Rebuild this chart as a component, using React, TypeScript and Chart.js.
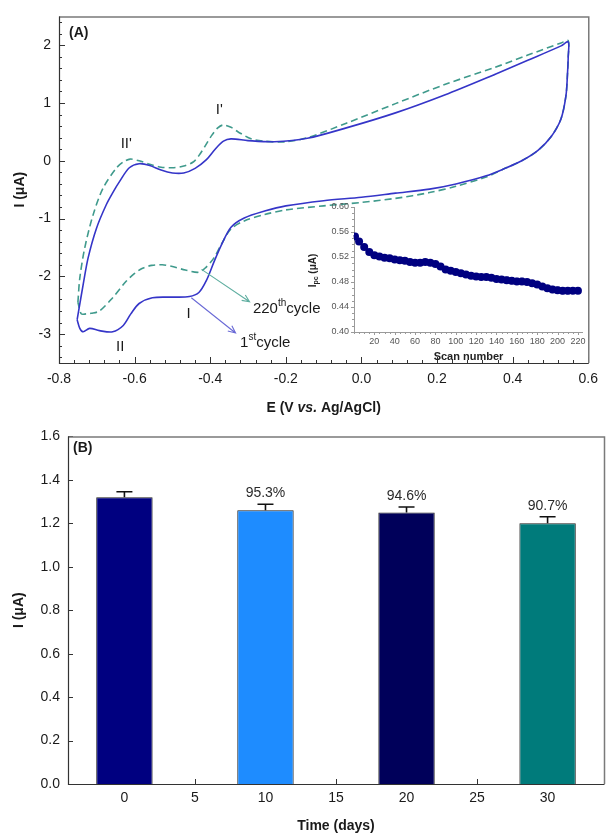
import React, { useEffect, useRef } from 'react';
import { Chart, registerables } from 'chart.js';

Chart.register(...registerables);

const FONT = 'Arial, "Liberation Sans", Helvetica, sans-serif';

// ---------------- Panel A: cyclic voltammograms (E in V, I in µA) ----------------
const cycle1Points: [number, number][] = [
  [-0.752, -2.75], [-0.745, -2.48], [-0.736, -2.14], [-0.723, -1.68], [-0.701, -1.17],
  [-0.675, -0.76], [-0.655, -0.52], [-0.640, -0.36], [-0.614, -0.12], [-0.588, -0.05],
  [-0.560, -0.08], [-0.530, -0.16], [-0.500, -0.21], [-0.470, -0.21], [-0.440, -0.13],
  [-0.410, 0.02], [-0.387, 0.20], [-0.365, 0.34], [-0.345, 0.38], [-0.300, 0.35],
  [-0.230, 0.33], [-0.143, 0.39], [-0.040, 0.57], [0.090, 0.83], [0.220, 1.14],
  [0.354, 1.50], [0.440, 1.74], [0.528, 1.99], [0.547, 2.06],
  [0.547, 1.80], [0.545, 1.50], [0.541, 1.13], [0.528, 0.73], [0.502, 0.42],
  [0.467, 0.18], [0.424, 0.00], [0.380, -0.13], [0.330, -0.26], [0.250, -0.40],
  [0.180, -0.49], [0.090, -0.56], [0.000, -0.63], [-0.100, -0.69], [-0.200, -0.78],
  [-0.256, -0.87], [-0.310, -0.99], [-0.345, -1.15], [-0.370, -1.45], [-0.390, -1.75],
  [-0.410, -2.07], [-0.430, -2.28], [-0.455, -2.35], [-0.500, -2.36], [-0.553, -2.37],
  [-0.588, -2.47], [-0.610, -2.65], [-0.630, -2.85], [-0.658, -2.96], [-0.693, -2.94],
  [-0.719, -2.90], [-0.736, -2.96], [-0.745, -2.90], [-0.752, -2.75],
];

const cycle220Points: [number, number][] = [
  [-0.750, -2.45], [-0.745, -2.03], [-0.732, -1.51], [-0.710, -0.94], [-0.684, -0.48],
  [-0.649, -0.13], [-0.630, -0.02], [-0.612, 0.03], [-0.588, 0.00], [-0.560, -0.06],
  [-0.530, -0.11], [-0.500, -0.12], [-0.470, -0.09], [-0.445, -0.02], [-0.430, 0.09],
  [-0.414, 0.25], [-0.396, 0.44], [-0.380, 0.57], [-0.366, 0.62], [-0.345, 0.58],
  [-0.326, 0.50], [-0.292, 0.38], [-0.260, 0.34], [-0.200, 0.33], [-0.143, 0.40],
  [-0.040, 0.65], [0.090, 0.99], [0.220, 1.32], [0.354, 1.62], [0.440, 1.83],
  [0.528, 2.04], [0.547, 2.08],
  [0.547, 1.80], [0.545, 1.50], [0.541, 1.13], [0.528, 0.73], [0.502, 0.42],
  [0.467, 0.18], [0.424, 0.00], [0.380, -0.13], [0.330, -0.28], [0.250, -0.44],
  [0.180, -0.55], [0.090, -0.65], [0.000, -0.72], [-0.100, -0.78], [-0.200, -0.85],
  [-0.256, -0.93], [-0.310, -1.04], [-0.345, -1.18], [-0.371, -1.45], [-0.390, -1.68],
  [-0.414, -1.86], [-0.431, -1.93], [-0.466, -1.89], [-0.500, -1.83], [-0.527, -1.80],
  [-0.555, -1.81], [-0.579, -1.86], [-0.600, -1.95], [-0.623, -2.09], [-0.658, -2.37],
  [-0.693, -2.60], [-0.715, -2.64], [-0.728, -2.65], [-0.741, -2.65], [-0.750, -2.45],
];

const cvPotentialTicks = [-0.8, -0.6, -0.4, -0.2, 0.0, 0.2, 0.4, 0.6];
const cvCurrentTicks = [-3, -2, -1, 0, 1, 2];

// peak labels [text, E, I]
const peakLabels: [string, number, number][] = [
  ["II'", -0.622, 0.30],
  ["I'", -0.376, 0.89],
  ['I', -0.457, -2.65],
  ['II', -0.638, -3.22],
];

// ---------------- Inset: Ipc vs scan number ----------------
const scanNumbers = [1, 5, 10, 15, 20, 25, 30, 35, 40, 45, 50, 55, 60, 65, 70, 75, 80, 85, 90, 95,
  100, 105, 110, 115, 120, 125, 130, 135, 140, 145, 150, 155, 160, 165, 170, 175, 180, 185, 190,
  195, 200, 205, 210, 215, 220];
const ipcValues = [0.553, 0.545, 0.536, 0.528, 0.523, 0.521, 0.519, 0.518, 0.516, 0.515, 0.514,
  0.512, 0.511, 0.511, 0.512, 0.511, 0.509, 0.505, 0.500, 0.498, 0.496, 0.494, 0.492, 0.490,
  0.489, 0.488, 0.488, 0.487, 0.485, 0.484, 0.483, 0.482, 0.481, 0.481, 0.480, 0.478, 0.476,
  0.473, 0.470, 0.468, 0.467, 0.466, 0.466, 0.466, 0.466];
const ipcErrors = [0.001, 0.001, 0.001, 0.001, 0.001, 0.001, 0.001, 0.001, 0.001, 0.001, 0.001,
  0.001, 0.001, 0.001, 0.001, 0.001, 0.001, 0.001, 0.001, 0.001, 0.001, 0.001, 0.001, 0.001,
  0.001, 0.001, 0.001, 0.001, 0.002, 0.003, 0.005, 0.005, 0.005, 0.005, 0.004, 0.003, 0.002,
  0.003, 0.004, 0.005, 0.005, 0.005, 0.005, 0.004, 0.003];
const insetScanTicks = [20, 40, 60, 80, 100, 120, 140, 160, 180, 200, 220];
const insetIpcTicks = [0.40, 0.44, 0.48, 0.52, 0.56, 0.60];

// ---------------- Panel B: storage stability ----------------
const storageDays = [0, 10, 20, 30];
const storageCurrents = [1.32, 1.26, 1.25, 1.20];
const storageErrors = [0.025, 0.028, 0.025, 0.030];
const retentionLabels = ['', '95.3%', '94.6%', '90.7%'];
const barColors = ['#000080', '#1E8CFF', '#00005A', '#007B7B'];
const dayTicks = [0, 5, 10, 15, 20, 25, 30];
const barCurrentTicks = [0, 0.2, 0.4, 0.6, 0.8, 1.0, 1.2, 1.4, 1.6];

// ---------------- helpers ----------------
const steps = (from: number, to: number, step: number) => {
  const out: number[] = [];
  const n = Math.round((to - from) / step);
  for (let i = 0; i <= n; i++) out.push(from + i * step);
  return out;
};

function drawTicks(ctx: any, scale: any, ca: any, values: number[], len: number, inward: boolean) {
  ctx.beginPath();
  for (const v of values) {
    if (scale.isHorizontal()) {
      const px = Math.round(scale.getPixelForValue(v)) + 0.5;
      const y0 = ca.bottom;
      ctx.moveTo(px, y0);
      ctx.lineTo(px, inward ? y0 - len : y0 + len);
    } else {
      const py = Math.round(scale.getPixelForValue(v)) + 0.5;
      const x0 = ca.left;
      ctx.moveTo(x0, py);
      ctx.lineTo(inward ? x0 + len : x0 - len, py);
    }
  }
  ctx.stroke();
}

function drawFrame(ctx: any, ca: any) {
  ctx.lineWidth = 1.5;
  ctx.strokeStyle = '#7a7a7a';
  ctx.beginPath();
  ctx.moveTo(ca.left, ca.top + 0.5);
  ctx.lineTo(ca.right + 0.5, ca.top + 0.5);
  ctx.lineTo(ca.right + 0.5, ca.bottom);
  ctx.stroke();
  ctx.lineWidth = 1.2;
  ctx.strokeStyle = '#333';
  ctx.beginPath();
  ctx.moveTo(ca.left + 0.5, ca.top);
  ctx.lineTo(ca.left + 0.5, ca.bottom + 0.5);
  ctx.lineTo(ca.right + 0.5, ca.bottom + 0.5);
  ctx.stroke();
}

function drawRich(ctx: any, parts: [string, string, number, number][], cx: number, baseY: number) {
  // parts: [text, fontStyle, size, yOffset]
  let total = 0;
  for (const [t, st, sz] of parts) {
    ctx.font = `${st} ${sz}px ${FONT}`;
    total += ctx.measureText(t).width;
  }
  let x = cx - total / 2;
  ctx.textAlign = 'left';
  ctx.textBaseline = 'alphabetic';
  for (const [t, st, sz, off] of parts) {
    ctx.font = `${st} ${sz}px ${FONT}`;
    ctx.fillText(t, x, baseY + off);
    x += ctx.measureText(t).width;
  }
}

function drawRichLeft(ctx: any, parts: [string, string, number, number][], x0: number, baseY: number) {
  let x = x0;
  ctx.textAlign = 'left';
  ctx.textBaseline = 'alphabetic';
  for (const [t, st, sz, off] of parts) {
    ctx.font = `${st} ${sz}px ${FONT}`;
    ctx.fillText(t, x, baseY + off);
    x += ctx.measureText(t).width;
  }
}

function drawArrow(ctx: any, x1: number, y1: number, x2: number, y2: number, color: string) {
  ctx.strokeStyle = color;
  ctx.lineWidth = 1.1;
  ctx.beginPath();
  ctx.moveTo(x1, y1);
  ctx.lineTo(x2, y2);
  const a = Math.atan2(y2 - y1, x2 - x1);
  const L = 8;
  ctx.moveTo(x2 - L * Math.cos(a - 0.42), y2 - L * Math.sin(a - 0.42));
  ctx.lineTo(x2, y2);
  ctx.lineTo(x2 - L * Math.cos(a + 0.42), y2 - L * Math.sin(a + 0.42));
  ctx.stroke();
}

function drawVerticalTitle(ctx: any, parts: [string, string, number, number][], cx: number, cy: number) {
  ctx.save();
  ctx.translate(cx, cy);
  ctx.rotate(-Math.PI / 2);
  drawRich(ctx, parts, 0, 5);
  ctx.restore();
}

const noGrid = { display: false, drawTicks: false };

// ---------------- plugins ----------------
const panelAPlugin = {
  id: 'panelA',
  afterDraw(chart: any) {
    const { ctx, chartArea: ca } = chart;
    const x = chart.scales.x;
    const y = chart.scales.y;
    ctx.save();
    ctx.strokeStyle = '#333';
    ctx.lineWidth = 1;
    drawTicks(ctx, y, ca, steps(-3.4, 2.4, 0.2), 3, true);
    drawTicks(ctx, y, ca, cvCurrentTicks, 6, true);
    drawTicks(ctx, x, ca, steps(-0.8, 0.6, 0.04), 3, true);
    drawTicks(ctx, x, ca, cvPotentialTicks, 6, true);
    drawFrame(ctx, ca);

    ctx.fillStyle = '#1a1a1a';
    ctx.font = `bold 14px ${FONT}`;
    ctx.textAlign = 'left';
    ctx.textBaseline = 'middle';
    ctx.fillText('(A)', ca.left + 10, ca.top + 17);

    ctx.font = `15px ${FONT}`;
    ctx.textAlign = 'center';
    ctx.textBaseline = 'middle';
    for (const [t, e, i] of peakLabels) {
      ctx.fillText(t, x.getPixelForValue(e), y.getPixelForValue(i));
    }

    drawArrow(ctx, x.getPixelForValue(-0.423), y.getPixelForValue(-1.88),
      x.getPixelForValue(-0.296), y.getPixelForValue(-2.44), '#5faea0');
    drawArrow(ctx, x.getPixelForValue(-0.450), y.getPixelForValue(-2.37),
      x.getPixelForValue(-0.333), y.getPixelForValue(-2.98), '#6a6ad6');

    ctx.fillStyle = '#1a1a1a';
    drawRichLeft(ctx, [['220', 'normal', 15, 0], ['th', 'normal', 10, -7], ['cycle', 'normal', 15, 0]],
      x.getPixelForValue(-0.287), y.getPixelForValue(-2.64));
    drawRichLeft(ctx, [['1', 'normal', 15, 0], ['st', 'normal', 10, -7], ['cycle', 'normal', 15, 0]],
      x.getPixelForValue(-0.321), y.getPixelForValue(-3.215));

    drawRich(ctx, [['E (V ', 'bold', 14, 0], ['vs.', 'italic bold', 14, 0], [' Ag/AgCl)', 'bold', 14, 0]],
      (ca.left + ca.right) / 2, ca.bottom + 49);
    drawVerticalTitle(ctx, [['I (\u03BCA)', 'bold', 14, 0]], 19, (ca.top + ca.bottom) / 2);
    ctx.restore();
  },
};

const insetPlugin = {
  id: 'inset',
  beforeDatasetsDraw(chart: any) {
    const { ctx, chartArea: ca } = chart;
    const x = chart.scales.x;
    const y = chart.scales.y;
    ctx.save();
    ctx.strokeStyle = '#9a9a9a';
    ctx.lineWidth = 1;
    ctx.beginPath();
    ctx.moveTo(ca.left + 0.5, ca.top);
    ctx.lineTo(ca.left + 0.5, ca.bottom + 0.5);
    ctx.lineTo(ca.right, ca.bottom + 0.5);
    ctx.stroke();
    drawTicks(ctx, y, ca, steps(0.40, 0.60, 0.01), 2, false);
    drawTicks(ctx, y, ca, insetIpcTicks, 3, false);
    drawTicks(ctx, x, ca, steps(0, 220, 5), 2, false);
    drawTicks(ctx, x, ca, insetScanTicks, 3, false);

    ctx.strokeStyle = '#6060a8';
    ctx.lineWidth = 1;
    ctx.beginPath();
    scanNumbers.forEach((s, i) => {
      const px = x.getPixelForValue(s);
      const yt = y.getPixelForValue(ipcValues[i] + ipcErrors[i]);
      const yb = y.getPixelForValue(ipcValues[i] - ipcErrors[i]);
      ctx.moveTo(px, yt); ctx.lineTo(px, yb);
      ctx.moveTo(px - 2, yt); ctx.lineTo(px + 2, yt);
      ctx.moveTo(px - 2, yb); ctx.lineTo(px + 2, yb);
    });
    ctx.stroke();
    ctx.restore();
  },
  afterDraw(chart: any) {
    const { ctx, chartArea: ca } = chart;
    ctx.save();
    ctx.fillStyle = '#222';
    drawRich(ctx, [['Scan number', 'bold', 11, 0]], (ca.left + ca.right) / 2, ca.bottom + 28);
    drawVerticalTitle(ctx, [['I', 'bold', 10, -1], ['pc', 'bold', 7, 1], [' (\u03BCA)', 'bold', 10, -1]],
      12, (ca.top + ca.bottom) / 2 + 1);
    ctx.restore();
  },
};

const panelBPlugin = {
  id: 'panelB',
  beforeDatasetsDraw(chart: any) {
    const { ctx, chartArea: ca } = chart;
    ctx.save();
    ctx.strokeStyle = '#333';
    ctx.lineWidth = 1;
    drawTicks(ctx, chart.scales.y, ca, barCurrentTicks, 5, true);
    drawTicks(ctx, chart.scales.x, ca, dayTicks, 5, true);
    ctx.restore();
  },
  afterDraw(chart: any) {
    const { ctx, chartArea: ca } = chart;
    const y = chart.scales.y;
    ctx.save();
    drawFrame(ctx, ca);
    const meta = chart.getDatasetMeta(0);
    ctx.strokeStyle = '#111';
    ctx.lineWidth = 1.6;
    ctx.fillStyle = '#2a2a2a';
    meta.data.forEach((el: any, i: number) => {
      const top = y.getPixelForValue(storageCurrents[i]);
      const errY = y.getPixelForValue(storageCurrents[i] + storageErrors[i]);
      ctx.beginPath();
      ctx.moveTo(el.x, top);
      ctx.lineTo(el.x, errY);
      ctx.moveTo(el.x - 8, errY);
      ctx.lineTo(el.x + 8, errY);
      ctx.stroke();
      if (retentionLabels[i]) {
        ctx.font = `14px ${FONT}`;
        ctx.textAlign = 'center';
        ctx.textBaseline = 'alphabetic';
        ctx.fillText(retentionLabels[i], el.x, errY - 7);
      }
    });
    ctx.fillStyle = '#1a1a1a';
    ctx.font = `bold 14px ${FONT}`;
    ctx.textAlign = 'left';
    ctx.textBaseline = 'middle';
    ctx.fillText('(B)', ca.left + 5, ca.top + 12);
    drawRich(ctx, [['Time (days)', 'bold', 14, 0]], (ca.left + ca.right) / 2, ca.bottom + 46);
    drawVerticalTitle(ctx, [['I (\u03BCA)', 'bold', 14, 0]], 18, (ca.top + ca.bottom) / 2);
    ctx.restore();
  },
};

const baseOptions = {
  animation: false,
  responsive: false,
  events: [],
  plugins: { legend: { display: false }, tooltip: { enabled: false } },
};

export default function App() {
  const aRef = useRef<HTMLCanvasElement>(null);
  const insetRef = useRef<HTMLCanvasElement>(null);
  const bRef = useRef<HTMLCanvasElement>(null);

  useEffect(() => {
    const charts: Chart[] = [];

    charts.push(new Chart(aRef.current as HTMLCanvasElement, {
      type: 'scatter',
      data: {
        datasets: [
          {
            label: '1st cycle',
            data: cycle1Points.map(([e, i]) => ({ x: e, y: i })),
            showLine: true,
            borderColor: '#3535c8',
            borderWidth: 1.6,
            pointRadius: 0,
            tension: 0.3,
            fill: false,
          },
          {
            label: '220th cycle',
            data: cycle220Points.map(([e, i]) => ({ x: e, y: i })),
            showLine: true,
            borderColor: '#3f9a8c',
            borderDash: [7, 4],
            borderWidth: 1.6,
            pointRadius: 0,
            tension: 0.3,
            fill: false,
          },
        ],
      },
      options: {
        ...baseOptions,
        layout: { padding: { left: 0, top: 14, right: 12, bottom: 0 } },
        scales: {
          x: {
            type: 'linear', min: -0.8, max: 0.6,
            afterBuildTicks: (s: any) => { s.ticks = cvPotentialTicks.map((v) => ({ value: v })); },
            afterFit: (s: any) => { s.height = 57; },
            grid: noGrid, border: { display: false },
            ticks: { padding: 8, color: '#1a1a1a', font: { family: FONT, size: 14 }, maxRotation: 0, autoSkip: false,
              callback: (v: any) => Number(v).toFixed(1) },
          },
          y: {
            type: 'linear', min: -3.5, max: 2.5,
            afterBuildTicks: (s: any) => { s.ticks = cvCurrentTicks.map((v) => ({ value: v })); },
            afterFit: (s: any) => { s.width = 59; },
            grid: noGrid, border: { display: false },
            ticks: { padding: 8, color: '#1a1a1a', font: { family: FONT, size: 14 }, autoSkip: false,
              callback: (v: any) => String(v) },
          },
        },
      } as any,
      plugins: [panelAPlugin],
    }));

    charts.push(new Chart(insetRef.current as HTMLCanvasElement, {
      type: 'scatter',
      data: {
        datasets: [{
          label: 'Ipc',
          data: scanNumbers.map((s, i) => ({ x: s, y: ipcValues[i] })),
          pointRadius: 4,
          pointBackgroundColor: '#000080',
          pointBorderColor: '#000080',
          pointBorderWidth: 0,
          showLine: false,
        }],
      },
      options: {
        ...baseOptions,
        layout: { padding: { left: 0, top: 15, right: 9, bottom: 0 } },
        scales: {
          x: {
            type: 'linear', min: 0, max: 225,
            afterBuildTicks: (s: any) => { s.ticks = insetScanTicks.map((v) => ({ value: v })); },
            afterFit: (s: any) => { s.height = 32; },
            grid: noGrid, border: { display: false },
            ticks: { padding: 4, color: '#555', font: { family: FONT, size: 9 }, maxRotation: 0, autoSkip: false },
          },
          y: {
            type: 'linear', min: 0.40, max: 0.60,
            afterBuildTicks: (s: any) => { s.ticks = insetIpcTicks.map((v) => ({ value: v })); },
            afterFit: (s: any) => { s.width = 54; },
            grid: noGrid, border: { display: false },
            ticks: { padding: 5, color: '#555', font: { family: FONT, size: 9 }, autoSkip: false,
              callback: (v: any) => Number(v).toFixed(2) },
          },
        },
      } as any,
      plugins: [insetPlugin],
    }));

    charts.push(new Chart(bRef.current as HTMLCanvasElement, {
      type: 'bar',
      data: {
        datasets: [{
          label: 'Current',
          data: storageDays.map((d, i) => ({ x: d, y: storageCurrents[i] })),
          backgroundColor: barColors,
          borderColor: '#1e1e1e',
          borderWidth: 1,
          categoryPercentage: 1,
          barPercentage: 0.8,
        }],
      },
      options: {
        ...baseOptions,
        layout: { padding: { left: 0, top: 14, right: 2, bottom: 0 } },
        scales: {
          x: {
            type: 'linear', min: -4, max: 34, offset: false,
            afterBuildTicks: (s: any) => { s.ticks = dayTicks.map((v) => ({ value: v })); },
            afterFit: (s: any) => { s.height = 49; },
            grid: { display: false, drawTicks: false, offset: false }, border: { display: false },
            ticks: { padding: 6, color: '#1a1a1a', font: { family: FONT, size: 14 }, maxRotation: 0, autoSkip: false },
          },
          y: {
            type: 'linear', min: 0, max: 1.6,
            afterBuildTicks: (s: any) => { s.ticks = barCurrentTicks.map((v) => ({ value: v })); },
            afterFit: (s: any) => { s.width = 68; },
            grid: noGrid, border: { display: false },
            ticks: { padding: 8, color: '#1a1a1a', font: { family: FONT, size: 14 }, autoSkip: false,
              callback: (v: any) => Number(v).toFixed(1) },
          },
        },
      } as any,
      plugins: [panelBPlugin],
    }));

    return () => charts.forEach((c) => c.destroy());
  }, []);

  return (
    <div style={{ position: 'absolute', left: 0, top: 0, width: 606, height: 833, background: '#fff', overflow: 'hidden' }}>
      <canvas ref={aRef} width={606} height={420} style={{ position: 'absolute', left: 0, top: 0 }} />
      <canvas ref={insetRef} width={292} height={172} style={{ position: 'absolute', left: 300, top: 192 }} />
      <canvas ref={bRef} width={606} height={413} style={{ position: 'absolute', left: 0, top: 420 }} />
    </div>
  );
}
